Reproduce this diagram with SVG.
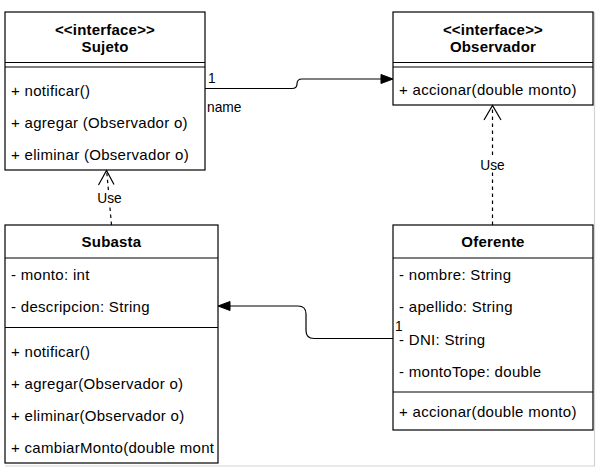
<svg xmlns="http://www.w3.org/2000/svg" width="598" height="471" viewBox="0 0 598 471">
<style>
.box{fill:#fff;stroke:#000;stroke-width:1.2}
.ln{stroke:#000;stroke-width:1.2;fill:none}
.t{font-family:"Liberation Sans",Arial,sans-serif;font-size:15px;fill:#000;letter-spacing:0.3px}
.b{font-weight:bold;text-anchor:middle;letter-spacing:0.2px}
.el{font-family:"Liberation Sans",Arial,sans-serif;font-size:13.75px;fill:#000}
.dash{stroke:#000;stroke-width:1.2;fill:none;stroke-dasharray:3.5 3.5}
</style>
<defs>
<clipPath id="clipSub"><rect x="5" y="328" width="212" height="135"/></clipPath>
</defs>
<rect width="598" height="471" fill="#fff"/>
<g id="frame" stroke="#d4d4d4" stroke-width="1.2" fill="none">
<path d="M594.5 12 V466 H5"/>
</g>
<g id="sujeto">
<rect class="box" x="5" y="12" width="200" height="158"/>
<line class="ln" x1="5" y1="62.5" x2="205" y2="62.5"/>
<line class="ln" x1="5" y1="67" x2="205" y2="67"/>
<text class="t b" x="105" y="35">&lt;&lt;interface&gt;&gt;</text>
<text class="t b" x="105" y="52">Sujeto</text>
<text class="t" x="11" y="96">+ notificar()</text>
<text class="t" x="11" y="128">+ agregar (Observador o)</text>
<text class="t" x="11" y="160">+ eliminar (Observador o)</text>
</g>
<g id="observador">
<rect class="box" x="393" y="12" width="200" height="93"/>
<line class="ln" x1="393" y1="62.5" x2="593" y2="62.5"/>
<line class="ln" x1="393" y1="67" x2="593" y2="67"/>
<text class="t b" x="493" y="35">&lt;&lt;interface&gt;&gt;</text>
<text class="t b" x="493" y="52">Observador</text>
<text class="t" x="399" y="95">+ accionar(double monto)</text>
</g>
<g id="subasta">
<rect class="box" x="5" y="225" width="213" height="238"/>
<line class="ln" x1="5" y1="258" x2="218" y2="258"/>
<line class="ln" x1="5" y1="327.5" x2="218" y2="327.5"/>
<text class="t b" x="111.5" y="247">Subasta</text>
<text class="t" x="11" y="280">- monto: int</text>
<text class="t" x="11" y="312">- descripcion: String</text>
<text class="t" x="11" y="357">+ notificar()</text>
<text class="t" x="11" y="389">+ agregar(Observador o)</text>
<text class="t" x="11" y="421">+ eliminar(Observador o)</text>
<text class="t" x="11" y="453" clip-path="url(#clipSub)">+ cambiarMonto(double mont</text>
</g>
<g id="oferente">
<rect class="box" x="393" y="225" width="200" height="205"/>
<line class="ln" x1="393" y1="258" x2="593" y2="258"/>
<line class="ln" x1="393" y1="392" x2="593" y2="392"/>
<text class="t b" x="493" y="247">Oferente</text>
<text class="t" x="399" y="280">- nombre: String</text>
<text class="t" x="399" y="312">- apellido: String</text>
<text class="t" x="399" y="345">- DNI: String</text>
<text class="t" x="399" y="377">- montoTope: double</text>
<text class="t" x="399" y="417">+ accionar(double monto)</text>
</g>
<g id="connectors">
<path class="ln" d="M205 88.5 H292 Q297 88.5 297 84 Q297 79 302 79 H383"/>
<polygon points="393,79 381,74.5 381,83.5" fill="#000" stroke="#000"/>
<text class="el" x="208" y="83">1</text>
<text class="el" x="207" y="112">name</text>
<path class="ln" d="M393 338.5 H314 Q306 338.5 306 330.5 V314 Q306 306 298 306 H229"/>
<polygon points="218,306 230,301.5 230,310.5" fill="#000" stroke="#000"/>
<text class="el" x="395" y="331">1</text>
<path class="dash" d="M492.5 225 V106"/>
<path class="ln" d="M484 120 L492.5 105.5 L501 120"/>
<rect x="480" y="156" width="25" height="16" fill="#fff"/>
<text class="el" x="492.5" y="170" text-anchor="middle">Use</text>
<path class="dash" d="M111.5 225 L106.7 171"/>
<path class="ln" d="M98.5 185 L106.5 170.5 L114 184.5"/>
<rect x="97" y="190" width="25" height="16" fill="#fff"/>
<text class="el" x="109.5" y="203" text-anchor="middle">Use</text>
</g>
</svg>
